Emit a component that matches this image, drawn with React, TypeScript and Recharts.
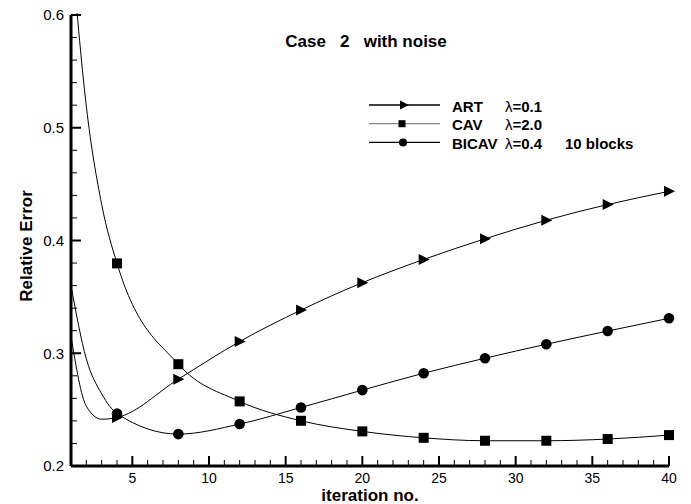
import { LineChart, Line, XAxis, YAxis, ReferenceLine } from "recharts"

const FONT = '"Liberation Sans", Arial, Helvetica, sans-serif'

// iteration numbers (markers every 4th iteration)
const iterations = [1, 2, 3, 4, 8, 12, 16, 20, 24, 28, 32, 36, 40]
const artError = [0.315, 0.253, 0.2415, 0.243, 0.277, 0.3104, 0.3383, 0.3626, 0.3832, 0.4015, 0.418, 0.4319, 0.4436]
const cavError = [0.665, 0.519, 0.432, 0.3797, 0.2903, 0.2573, 0.2401, 0.2307, 0.225, 0.2224, 0.2224, 0.2239, 0.2274]
const bicavError = [0.36, 0.295, 0.264, 0.2466, 0.2283, 0.2372, 0.2519, 0.2673, 0.2823, 0.2956, 0.308, 0.3197, 0.331]

const xTicks = [1, 2, 3, 4, 5, 6, 7, 8, 9, 10, 11, 12, 13, 14, 15, 16, 17, 18, 19, 20, 21, 22, 23, 24, 25, 26, 27, 28, 29, 30, 31, 32, 33, 34, 35, 36, 37, 38, 39, 40]
const xMajor = [5, 10, 15, 20, 25, 30, 35, 40]
const yTicks = [0.2, 0.22, 0.24, 0.26, 0.28, 0.3, 0.32, 0.34, 0.36, 0.38, 0.4, 0.42, 0.44, 0.46, 0.48, 0.5, 0.52, 0.54, 0.56, 0.58, 0.6]
const yMajor = [0.2, 0.3, 0.4, 0.5, 0.6]

const toSeries = (values: number[]) => iterations.map((iter, i) => ({ iter, value: values[i] }))
const artData = toSeries(artError)
const cavData = toSeries(cavError)
const bicavData = toSeries(bicavError)

const isMajor = (list: number[], v: number) => list.some((m) => Math.abs(m - v) < 1e-9)

// plot box is 598 x 451 px for 1..40 x 0.2..0.6, used to turn tick lengths into data units
const X_PER_PX = 39 / 598
const Y_PER_PX = 0.4 / 451

function XTick(props: any) {
  const { x, y, payload } = props
  if (!isMajor(xMajor, payload.value)) return <g />
  return (
    <text x={x} y={y + 17} textAnchor="middle" fontSize={14} fontFamily={FONT} fill="#000">
      {payload.value}
    </text>
  )
}

function YTick(props: any) {
  const { x, y, payload } = props
  if (!isMajor(yMajor, payload.value)) return <g />
  return (
    <text x={x - 7} y={y} dy="0.36em" textAnchor="end" fontSize={15} fontFamily={FONT} fill="#000">
      {payload.value.toFixed(1)}
    </text>
  )
}

const triangle = (cx: number, cy: number, s: number) =>
  `${cx - s},${cy - s * 1.1} ${cx - s},${cy + s * 1.1} ${cx + s * 1.2},${cy}`

const markerDot = (kind: string) => (props: any) => {
  const { cx, cy, payload, index } = props
  if (payload.iter % 4 !== 0) return <g key={index} />
  if (kind === "tri") return <polygon key={index} points={triangle(cx, cy, 5)} fill="#000" />
  if (kind === "sq") return <rect key={index} x={cx - 5} y={cy - 5} width={10} height={10} fill="#000" />
  return <circle key={index} cx={cx} cy={cy} r={5.3} fill="#000" />
}

const legendRows = [
  { name: "ART", lambda: "=0.1", extra: "", kind: "tri", y: 105, stroke: "#000" },
  { name: "CAV", lambda: "=2.0", extra: "", kind: "sq", y: 123.7, stroke: "#888" },
  { name: "BICAV", lambda: "=0.4", extra: "10 blocks", kind: "circ", y: 142.4, stroke: "#000" },
]

// CAV starts above 0.6; push the plot top up so 0.6 sits on y=15, mask the overflow
const Y_TOP = 15 - ((0.665 - 0.6) / 0.4) * 451

export default function App() {
  return (
    <div style={{ position: "absolute", left: 0, top: 0, width: 691, height: 504 }}>
      <svg width={691} height={504} style={{ position: "absolute", left: 0, top: 0 }} fontFamily={FONT}>
        <text x={366} y={47} textAnchor="middle" fontSize={17} fontWeight="bold" style={{ whiteSpace: "pre" }}>
          {"Case   2   with noise"}
        </text>
        <text x={370} y={501} textAnchor="middle" fontSize={17} fontWeight="bold">
          iteration no.
        </text>
        <text x={31.5} y={246} textAnchor="middle" fontSize={17} fontWeight="bold" transform="rotate(-90 31.5 246)">
          Relative Error
        </text>
        {legendRows.map((r) => (
          <g key={r.name}>
            <line x1={369} x2={440} y1={r.y} y2={r.y} stroke={r.stroke} strokeWidth={1.3} />
            {r.kind === "tri" && <polygon points={triangle(404, r.y, 4)} fill="#000" />}
            {r.kind === "sq" && <rect x={398.5} y={r.y - 3.5} width={7} height={7} fill="#000" />}
            {r.kind === "circ" && <circle cx={403} cy={r.y} r={4} fill="#000" />}
            <text x={452} y={r.y + 6.6} fontSize={15} fontWeight="bold">
              {r.name}
            </text>
            <text x={505} y={r.y + 6.6} fontSize={15} fontWeight="bold">
              <tspan fontWeight="normal">λ</tspan>
              {r.lambda}
            </text>
            {r.extra && (
              <text x={565} y={r.y + 6.6} fontSize={15} fontWeight="bold">
                {r.extra}
              </text>
            )}
          </g>
        ))}
      </svg>
      <LineChart width={691} height={504} margin={{ top: Y_TOP, right: 22, left: 40, bottom: 8 }}>
        <XAxis
          dataKey="iter"
          type="number"
          domain={[1, 40]}
          ticks={xTicks}
          interval={0}
          height={30}
          tickSize={0}
          tickMargin={0}
          tickLine={false}
          axisLine={false}
          tick={XTick}
        />
        <YAxis
          type="number"
          domain={[0.2, 0.6]}
          ticks={yTicks}
          interval={0}
          width={31}
          tickSize={0}
          tickMargin={0}
          tickLine={false}
          axisLine={false}
          tick={YTick}
        />
        <Line data={cavData} dataKey="value" type="monotone" stroke="#000" strokeWidth={1} dot={markerDot("sq")} activeDot={false} isAnimationActive={false} />
        <Line data={bicavData} dataKey="value" type="monotone" stroke="#000" strokeWidth={1} dot={markerDot("circ")} activeDot={false} isAnimationActive={false} />
        <Line data={artData} dataKey="value" type="monotone" stroke="#000" strokeWidth={1} dot={markerDot("tri")} activeDot={false} isAnimationActive={false} />
        {xTicks.map((v) => {
          const major = isMajor(xMajor, v)
          return (
            <ReferenceLine
              key={`xt${v}`}
              segment={[{ x: v, y: 0.2 }, { x: v, y: 0.2 + (major ? 10 : 6) * Y_PER_PX }]}
              stroke="#000"
              strokeWidth={major ? 2 : 1}
            />
          )
        })}
        {yTicks.map((v) => {
          const major = isMajor(yMajor, v)
          return (
            <ReferenceLine
              key={`yt${v}`}
              segment={[{ x: 1, y: v }, { x: 1 + (major ? 10 : 6) * X_PER_PX, y: v }]}
              stroke="#000"
              strokeWidth={major ? 2 : 1}
            />
          )
        })}
        <ReferenceLine segment={[{ x: 1, y: 0.2 }, { x: 40, y: 0.2 }]} stroke="#000" strokeWidth={3} />
        <ReferenceLine segment={[{ x: 1, y: 0.2 }, { x: 1, y: 0.6 }]} stroke="#000" strokeWidth={3} />
      </LineChart>
      <div style={{ position: "absolute", left: 66, top: 0, width: 60, height: 13, background: "#fff" }} />
    </div>
  )
}
